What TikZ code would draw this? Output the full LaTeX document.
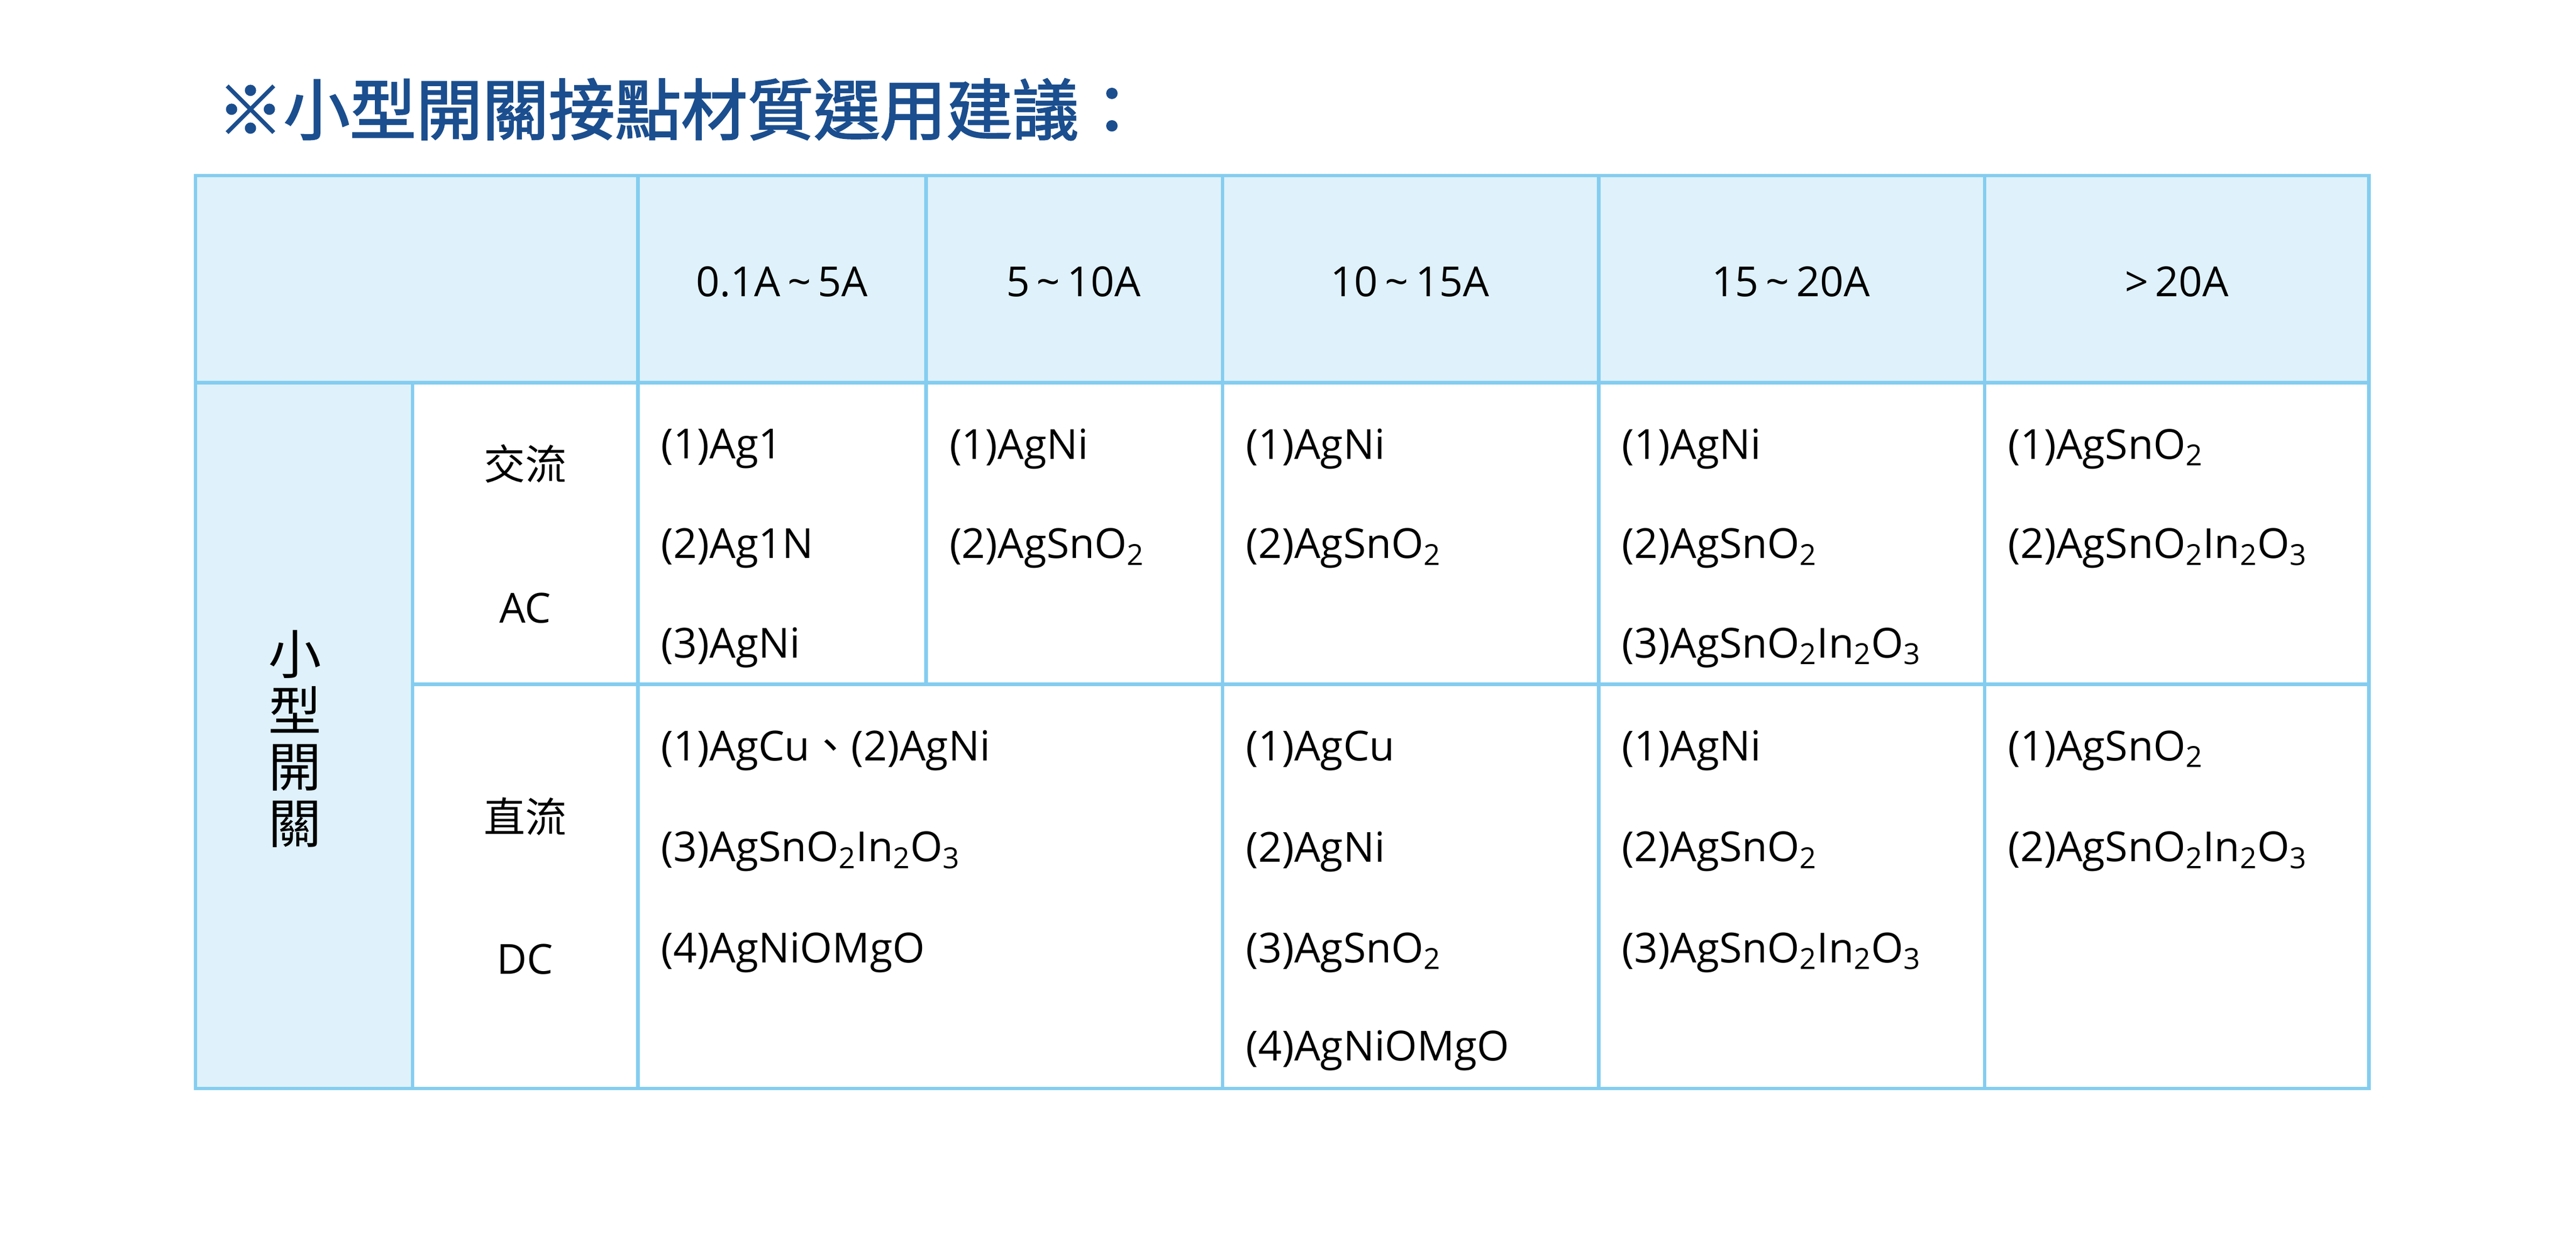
\documentclass[tikz,border=0pt]{standalone}
\usepackage{fontspec}
\setmainfont{Open Sans}
\newfontfamily\cjk{Noto Sans CJK TC}
\newfontfamily\cjkb[FakeBold=2]{Noto Sans CJK TC}
\definecolor{hdr}{HTML}{DFF1FA}
\definecolor{ln}{HTML}{84CDF0}
\definecolor{ttl}{HTML}{1B4E8E}
\newcommand{\sbs}[1]{\textsubscript{#1}}
\tikzset{cell/.style={fill=white},
 txt/.style={anchor=west,font=\fontsize{25}{30}\selectfont,inner sep=0pt},
 ctr/.style={font=\fontsize{25}{30}\selectfont,inner sep=0pt}}
\begin{document}
\begin{tikzpicture}[x=1pt,y=-1pt]
\useasboundingbox (0,0) rectangle (1555,758);
\node[anchor=west,text=ttl,inner sep=0pt,font=\cjkb\fontsize{40}{46}\selectfont] (title) at (131,66) {※小型開關接點材質選用建議：};
% fills
\fill[hdr] (118,106) rectangle (1430,231);
\fill[hdr] (118,231) rectangle (249,657);
\fill[white] (249,231) rectangle (1430,657);
% grid
\draw[ln,line width=2.2pt] (118,106) rectangle (1430,657);
\draw[ln,line width=2.2pt] (118,231) -- (1430,231) (249,413) -- (1430,413);
\draw[ln,line width=2.2pt] (249,231) -- (249,657) (385,106) -- (385,657) (559,106) -- (559,413)
 (738,106) -- (738,657) (965,106) -- (965,657) (1198,106) -- (1198,657);
% header
\node[ctr] (h1) at (472,170) {0.1A\,\textasciitilde\,5A};
\node[ctr] (h2) at (648,170) {5\,\textasciitilde\,10A};
\node[ctr] (h3) at (851,170) {10\,\textasciitilde\,15A};
\node[ctr] (h4) at (1081,170) {15\,\textasciitilde\,20A};
\node[ctr] (h5) at (1314,170) {>\,20A};
% left
\node[ctr,font=\cjk\fontsize{32}{38}\selectfont,align=center] (sw) at (178,446) {小\\[-4pt]型\\[-4pt]開\\[-4pt]關};
\node[ctr,font=\cjk\fontsize{25}{30}\selectfont] (ac1) at (317,280) {交流};
\node[ctr] (ac2) at (317,367) {AC};
\node[ctr,font=\cjk\fontsize{25}{30}\selectfont] (dc1) at (317,493) {直流};
\node[ctr] (dc2) at (317,579) {DC};
% AC row
\node[txt] (a11) at (399,271) {(1)Ag1};
\node[txt] (a12) at (399,331) {(2)Ag1N};
\node[txt] (a13) at (399,391) {(3)AgNi};
\node[txt] (a21) at (573,271) {(1)AgNi};
\node[txt] (a22) at (573,331) {(2)AgSnO\sbs{2}};
\node[txt] (a31) at (752,271) {(1)AgNi};
\node[txt] (a32) at (752,331) {(2)AgSnO\sbs{2}};
\node[txt] (a41) at (979,271) {(1)AgNi};
\node[txt] (a42) at (979,331) {(2)AgSnO\sbs{2}};
\node[txt] (a43) at (979,391) {(3)AgSnO\sbs{2}In\sbs{2}O\sbs{3}};
\node[txt] (a51) at (1212,271) {(1)AgSnO\sbs{2}};
\node[txt] (a52) at (1212,331) {(2)AgSnO\sbs{2}In\sbs{2}O\sbs{3}};
% DC row
\node[txt] (d11) at (399,453) {(1)AgCu{\cjk 、}(2)AgNi};
\node[txt] (d12) at (399,514) {(3)AgSnO\sbs{2}In\sbs{2}O\sbs{3}};
\node[txt] (d13) at (399,575) {(4)AgNiOMgO};
\node[txt] (d31) at (752,453) {(1)AgCu};
\node[txt] (d32) at (752,514) {(2)AgNi};
\node[txt] (d33) at (752,575) {(3)AgSnO\sbs{2}};
\node[txt] (d34) at (752,634) {(4)AgNiOMgO};
\node[txt] (d41) at (979,453) {(1)AgNi};
\node[txt] (d42) at (979,514) {(2)AgSnO\sbs{2}};
\node[txt] (d43) at (979,575) {(3)AgSnO\sbs{2}In\sbs{2}O\sbs{3}};
\node[txt] (d51) at (1212,453) {(1)AgSnO\sbs{2}};
\node[txt] (d52) at (1212,514) {(2)AgSnO\sbs{2}In\sbs{2}O\sbs{3}};
\end{tikzpicture}
\end{document}
